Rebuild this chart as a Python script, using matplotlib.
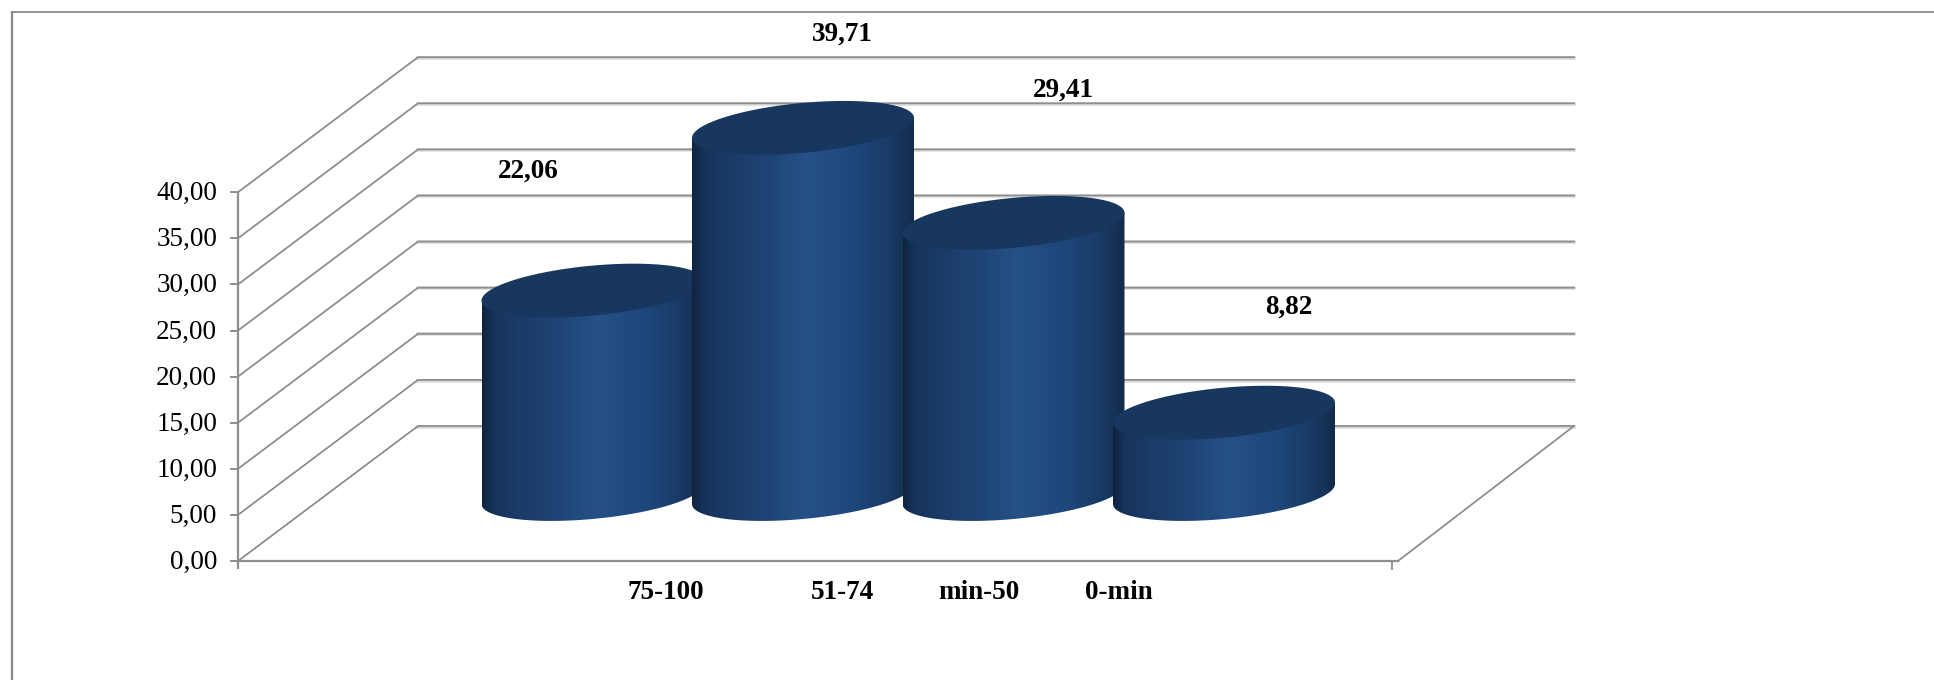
import numpy as np
import matplotlib
matplotlib.use('Agg')
import matplotlib.pyplot as plt
from matplotlib.patches import PathPatch, Polygon
from matplotlib.path import Path

categories = ['75-100', '51-74', 'min-50', '0-min']
values = [22.06, 39.71, 29.41, 8.82]
value_labels = ['22,06', '39,71', '29,41', '8,82']
y_ticks = [0, 5, 10, 15, 20, 25, 30, 35, 40]
y_tick_labels = ['0,00', '5,00', '10,00', '15,00', '20,00', '25,00', '30,00', '35,00', '40,00']

# layout, in pixels of the picture
W, H = 1934, 680
Y0 = 561.0        # value 0 on the front axis
PX_PER_UNIT = 9.22
X_LEFT, X_TICK, X_RIGHT = 238, 1392, 1398
X_BACK, X_BACK_END = 418, 1574
DY = -135   # depth of the 3d box
BASE_Y = 494
BAR_CENTERS = [592.5, 803, 1013.5, 1224]
BAR_A, BAR_B, BAR_TILT = 111, 25, 10
LABEL_POS = [(528, 171), (842, 34), (1063, 90), (1289, 307)]
CAT_POS = [(666, 592.5), (842, 592.5), (979, 592.5), (1119, 592.5)]
GRID = '#8e8e8e'
HALO = '#dcdcdc'
FS = 19.5

plt.rcParams['font.family'] = ['Liberation Serif', 'DejaVu Serif']

fig = plt.figure(figsize=(W / 100, H / 100), dpi=100)
ax = fig.add_axes([0, 0, 1, 1])


def val_y(v):
    return Y0 - v * PX_PER_UNIT


# outer frame
ax.plot([11.5, 11.5], [H, 11.5], color='#8a8a8a', lw=1.6)
ax.plot([11.5, W], [11.5, 11.5], color='#8a8a8a', lw=1.3)

# walls and grid
for t, lab in zip(y_ticks, y_tick_labels):
    y = val_y(t)
    ax.plot([X_BACK, X_BACK_END], [y + DY + 0.6, y + DY + 0.6], color=HALO, lw=2.6)
    ax.plot([X_LEFT - 7, X_LEFT], [y, y], color=GRID, lw=1.4)
    ax.plot([X_LEFT, X_BACK, X_BACK_END], [y, y + DY, y + DY], color=GRID, lw=1.3)
    ax.text(217, y + 1.5, lab, ha='right', va='center', fontsize=FS, color='black')

ax.plot([X_LEFT, X_LEFT], [val_y(40), Y0 + 7], color=GRID, lw=1.6)
ax.plot([X_LEFT, X_RIGHT], [Y0, Y0], color=GRID, lw=1.6)
ax.plot([X_TICK, X_TICK], [Y0, Y0 + 8], color=GRID, lw=1.3)
ax.plot([X_RIGHT, X_BACK_END], [Y0, Y0 + DY], color=GRID, lw=1.3)

# cylinder side shading, left to right
shade = np.array([[16, 35, 63], [22, 51, 90], [26, 58, 102], [31, 69, 118],
                  [38, 81, 135], [30, 72, 124], [26, 60, 105], [19, 43, 75]]) / 255
pos = np.array([0, 0.05, 0.15, 0.35, 0.52, 0.72, 0.88, 1])
xs = np.linspace(0, 1, 256)
grad = np.stack([np.interp(xs, pos, shade[:, i]) for i in range(3)], axis=-1)[np.newaxis, :, :]

t_low = np.linspace(np.pi, 0, 80)
t_full = np.linspace(0, 2 * np.pi, 160)

for i, (cx, v) in enumerate(zip(BAR_CENTERS, values)):
    top = BASE_Y - v * PX_PER_UNIT
    # body outline: down the left side, under the base ellipse, up the right side
    low_x = cx + BAR_A * np.cos(t_low)
    low_y = BASE_Y + BAR_B * np.sin(t_low) - BAR_TILT * np.cos(t_low)
    body = np.vstack([[cx - BAR_A, top + BAR_TILT],
                      np.column_stack([low_x, low_y]),
                      [cx + BAR_A, top - BAR_TILT]])
    im = ax.imshow(grad, extent=[cx - BAR_A, cx + BAR_A, BASE_Y + 40, top - 40],
                   aspect='auto', zorder=3 + i, interpolation='bilinear')
    clip = Polygon(body, closed=True, transform=ax.transData, fc='none', ec='none')
    ax.add_patch(clip)
    im.set_clip_path(clip)
    # top ellipse
    ell_x = cx + BAR_A * np.cos(t_full)
    ell_y = top + BAR_B * np.sin(t_full) - BAR_TILT * np.cos(t_full)
    ax.add_patch(PathPatch(Path(np.column_stack([ell_x, ell_y])), fc='#17375e', ec='none', zorder=3 + i))

for lab, (x, y) in zip(value_labels, LABEL_POS):
    ax.text(x, y, lab, ha='center', va='center', fontsize=FS, fontweight='bold', color='black', zorder=10)

for lab, (x, y) in zip(categories, CAT_POS):
    ax.text(x, y, lab, ha='center', va='center', fontsize=FS, fontweight='bold', color='black', zorder=10)

ax.set_xlim(0, W)
ax.set_ylim(H, 0)
ax.axis('off')
fig.savefig('out.png', dpi=100, facecolor='white')
